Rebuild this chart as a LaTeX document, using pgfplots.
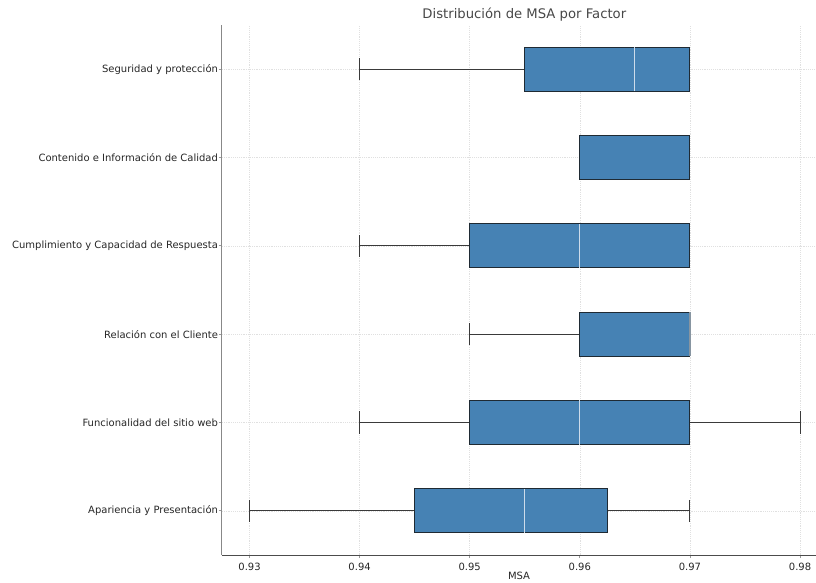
\documentclass[border=0pt]{standalone}
\usepackage{pgfplots}
\pgfplotsset{compat=1.18}
\usepgfplotslibrary{statistics}
\usepackage{fontspec}
\setmainfont{DejaVu Sans}

\definecolor{boxfill}{HTML}{4682B4}
\definecolor{boxedge}{HTML}{1F2A33}
\definecolor{whiskcol}{HTML}{3A3A3A}
\definecolor{medcol}{RGB}{205,220,235}
\definecolor{gridcol}{HTML}{E0E0E0}
\definecolor{txtcol}{HTML}{262626}
\definecolor{spinecol}{HTML}{555555}
\definecolor{tickcol}{HTML}{999999}

\begin{document}
\begin{tikzpicture}
% page frame (1px = 0.75pt); axis box starts at (222px, 25px from top)
\useasboundingbox (-222*0.75pt, -27*0.75pt) rectangle (594*0.75pt, 555*0.75pt);
\begin{axis}[
  at={(0,0)}, anchor=south west,
  scale only axis,
  width=594*0.75pt, height=530*0.75pt,
  xmin=0.9275, xmax=0.98145,
  ymin=0.5, ymax=6.5,
  axis x line*=bottom, axis y line*=left,
  axis line style={-, line width=0.75pt},
  x axis line style={draw=spinecol!90!black},
  y axis line style={draw=spinecol!70},
  xtick={0.93,0.94,0.95,0.96,0.97,0.98},
  ytick={1,2,3,4,5,6},
  yticklabels={Apariencia y Presentación, Funcionalidad del sitio web, Relación con el Cliente, Cumplimiento y Capacidad de Respuesta, Contenido e Información de Calidad, Seguridad y protección},
  xticklabel style={/pgf/number format/fixed, /pgf/number format/precision=2, /pgf/number format/fixed zerofill},
  /pgf/number format/assume math mode=true,
  ticklabel style={font=\fontsize{7.5}{9}\selectfont, text=txtcol},
  yticklabel style={xshift=2.9pt},
  tick align=outside,
  major tick length=2.4pt,
  tick style={draw=tickcol, line width=0.6pt},
  grid=major,
  major grid style={draw=gridcol, densely dotted, line width=0.5pt},
  xlabel={MSA},
  xlabel style={font=\fontsize{7.5}{9}\selectfont, text=txtcol, yshift=5.5pt},
  title={Distribución de MSA por Factor},
  title style={font=\fontsize{9.9}{12}\selectfont, text=txtcol!85, yshift=-6.75pt, xshift=4pt},
  boxplot/draw direction=x,
  boxplot/box extend=0.5,
  boxplot/whisker extend=0.25,
  boxplot/every box/.style={draw=boxedge, fill=boxfill, line width=0.75pt},
  boxplot/every whisker/.style={draw=whiskcol, line width=0.75pt},
  boxplot/every median/.style={draw=medcol, line width=0.9pt},
]
% Apariencia y Presentación
\addplot[boxplot prepared={lower whisker=0.93, lower quartile=0.945, median=0.955, upper quartile=0.9625, upper whisker=0.97, draw position=1}] coordinates {};
% Funcionalidad del sitio web
\addplot[boxplot prepared={lower whisker=0.94, lower quartile=0.95, median=0.96, upper quartile=0.97, upper whisker=0.98, draw position=2}] coordinates {};
% Relación con el Cliente
\addplot[boxplot prepared={lower whisker=0.95, lower quartile=0.96, median=0.97, upper quartile=0.97, upper whisker=0.97, draw position=3},
  boxplot/every median/.style={draw=medcol!60!boxedge, line width=0.9pt}] coordinates {};
% Cumplimiento y Capacidad de Respuesta
\addplot[boxplot prepared={lower whisker=0.94, lower quartile=0.95, median=0.96, upper quartile=0.97, upper whisker=0.97, draw position=4}] coordinates {};
% Contenido e Información de Calidad
\addplot[boxplot prepared={lower whisker=0.96, lower quartile=0.96, median=0.97, upper quartile=0.97, upper whisker=0.97, draw position=5},
  boxplot/every median/.style={draw=boxedge, line width=0.75pt}] coordinates {};
% Seguridad y protección
\addplot[boxplot prepared={lower whisker=0.94, lower quartile=0.955, median=0.965, upper quartile=0.97, upper whisker=0.97, draw position=6}] coordinates {};
\end{axis}
\end{tikzpicture}
\end{document}
